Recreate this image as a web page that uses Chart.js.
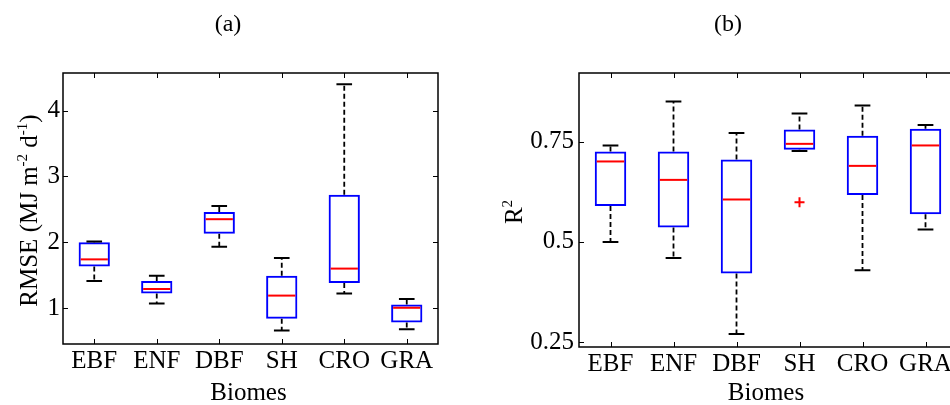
<!DOCTYPE html>
<html>
<head>
<meta charset="utf-8">
<script src="https://cdn.jsdelivr.net/npm/chart.js@4.4.1/dist/chart.umd.min.js"></script>
<style>
  html, body { margin: 0; padding: 0; background: #fff; overflow: hidden; }
  body { width: 950px; height: 405px; position: relative; }
  .panel { position: absolute; top: 0; height: 405px; }
  #panelA { left: 0; width: 475px; }
  #panelB { left: 475px; width: 500px; }
</style>
</head>
<body>
<div class="panel" id="panelA"><canvas id="chartA" width="475" height="405"></canvas></div>
<div class="panel" id="panelB"><canvas id="chartB" width="500" height="405"></canvas></div>
<script>
// Categories
const biomes = ['EBF', 'ENF', 'DBF', 'SH', 'CRO', 'GRA'];

// (a) RMSE box plot stats
const rmseLow  = [1.41, 1.07, 1.93, 0.66, 1.22, 0.68];
const rmseQ1   = [1.63, 1.22, 2.13, 0.84, 1.38, 0.78];
const rmseMed  = [1.74, 1.29, 2.35, 1.19, 1.60, 1.005];
const rmseQ3   = [2.00, 1.41, 2.46, 1.49, 2.72, 1.055];
const rmseHigh = [2.01, 1.49, 2.55, 1.76, 4.40, 1.14];
const rmseOutliers = [null, null, null, null, null, null];
const rmseTicks = [1, 2, 3, 4];

// (b) R2 box plot stats
const r2Low  = [0.500, 0.460, 0.270, 0.727, 0.429, 0.531];
const r2Q1   = [0.590, 0.536, 0.421, 0.730, 0.617, 0.569];
const r2Med  = [0.701, 0.655, 0.606, 0.745, 0.690, 0.741];
const r2Q3   = [0.726, 0.726, 0.706, 0.781, 0.765, 0.783];
const r2High = [0.741, 0.851, 0.772, 0.821, 0.841, 0.792];
const r2Outliers = [null, null, null, 0.599, null, null];
const r2Ticks = [0.25, 0.5, 0.75];

const FONT = 'Liberation Serif, Times New Roman, serif';
const TICK_FONT = { family: FONT, size: 25 };

function makePanel(cfg) {
    const boxPlugin = {
        id: 'boxparts',
        afterDatasetsDraw(chart) {
            const ctx = chart.ctx;
            const x = chart.scales.x, y = chart.scales.y;
            const step = x.getPixelForValue(1) - x.getPixelForValue(0);
            const capHalf = step * 0.125, boxHalf = step * 0.25;
            ctx.save();
            for (let i = 0; i < biomes.length; i++) {
                const xc = x.getPixelForValue(i);
                // dashed whiskers
                ctx.strokeStyle = '#000';
                ctx.lineWidth = 1.8;
                ctx.setLineDash([5, 3]);
                ctx.beginPath();
                ctx.moveTo(xc, y.getPixelForValue(cfg.q3[i]));
                ctx.lineTo(xc, y.getPixelForValue(cfg.high[i]));
                ctx.moveTo(xc, y.getPixelForValue(cfg.q1[i]));
                ctx.lineTo(xc, y.getPixelForValue(cfg.low[i]));
                ctx.stroke();
                // caps
                ctx.setLineDash([]);
                ctx.lineWidth = 2;
                ctx.beginPath();
                [cfg.high[i], cfg.low[i]].forEach(v => {
                    const py = y.getPixelForValue(v);
                    ctx.moveTo(xc - capHalf, py);
                    ctx.lineTo(xc + capHalf, py);
                });
                ctx.stroke();
                // median
                ctx.strokeStyle = '#ff0000';
                ctx.beginPath();
                const pm = y.getPixelForValue(cfg.med[i]);
                ctx.moveTo(xc - boxHalf + 2, pm);
                ctx.lineTo(xc + boxHalf - 2, pm);
                ctx.stroke();
            }
            ctx.restore();
        },
        afterDraw(chart) {
            const ctx = chart.ctx;
            const a = chart.chartArea;
            const x = chart.scales.x, y = chart.scales.y;
            ctx.save();
            // frame + inward ticks
            ctx.strokeStyle = '#000';
            ctx.lineWidth = 1.5;
            ctx.strokeRect(a.left, a.top, a.right - a.left, a.bottom - a.top);
            ctx.lineWidth = 1;
            ctx.beginPath();
            cfg.yTicks.forEach(v => {
                const py = Math.round(y.getPixelForValue(v)) + 0.5;
                ctx.moveTo(a.left, py); ctx.lineTo(a.left + 5, py);
                ctx.moveTo(a.right, py); ctx.lineTo(a.right - 5, py);
            });
            for (let i = 0; i < biomes.length; i++) {
                const px = Math.round(x.getPixelForValue(i)) + 0.5;
                ctx.moveTo(px, a.bottom); ctx.lineTo(px, a.bottom - 5);
                ctx.moveTo(px, a.top); ctx.lineTo(px, a.top + 5);
            }
            ctx.stroke();

            ctx.fillStyle = '#000';
            // panel title
            ctx.font = '24px ' + FONT;
            ctx.textAlign = 'center';
            ctx.textBaseline = 'middle';
            ctx.fillText(cfg.title, cfg.titleX, 25);
            // x title
            ctx.font = '25px ' + FONT;
            ctx.textBaseline = 'alphabetic';
            ctx.fillText('Biomes', (a.left + a.right) / 2 - 2, 400);
            // y title with superscripts, rotated
            const parts = cfg.yTitle.map(([t, sup]) => {
                ctx.font = (sup ? '15px ' : '25px ') + FONT;
                return { t, sup, w: ctx.measureText(t).width };
            });
            const total = parts.reduce((s, p) => s + p.w, 0);
            ctx.translate(cfg.yTitleX, (a.top + a.bottom) / 2 + 2);
            ctx.rotate(-Math.PI / 2);
            ctx.textAlign = 'left';
            let cx = -total / 2;
            parts.forEach(p => {
                ctx.font = (p.sup ? '15px ' : '25px ') + FONT;
                ctx.fillText(p.t, cx, p.sup ? -10 : 0);
                cx += p.w;
            });
            ctx.restore();
        }
    };

    return new Chart(document.getElementById(cfg.canvas), {
        type: 'bar',
        data: {
            labels: biomes,
            datasets: [{
                data: cfg.q1.map((v, i) => [v, cfg.q3[i]]),
                backgroundColor: 'rgba(0,0,0,0)',
                borderColor: '#0000ff',
                borderWidth: 2,
                borderSkipped: false,
                barPercentage: 0.5,
                categoryPercentage: 1
            }, {
                type: 'line',
                data: cfg.outliers,
                showLine: false,
                pointStyle: 'cross',
                pointRadius: 5,
                pointBorderWidth: 2,
                pointBorderColor: '#ff0000',
                borderColor: '#ff0000'
            }]
        },
        options: {
            responsive: false,
            animation: false,
            devicePixelRatio: 1,
            layout: { padding: cfg.padding },
            plugins: { legend: { display: false }, tooltip: { enabled: false } },
            scales: {
                x: {
                    type: 'category',
                    offset: true,
                    grid: { display: false, drawTicks: false },
                    border: { display: false },
                    ticks: { font: TICK_FONT, color: '#000', padding: 2, maxRotation: 0, autoSkip: false },
                    afterFit: s => { s.height = cfg.xAxisHeight; }
                },
                y: {
                    type: 'linear',
                    min: cfg.yMin,
                    max: cfg.yMax,
                    grid: { display: false, drawTicks: false },
                    border: { display: false },
                    afterBuildTicks: s => { s.ticks = cfg.yTicks.map(v => ({ value: v })); },
                    ticks: { font: TICK_FONT, color: '#000', padding: cfg.yPad, callback: v => String(v) },
                    afterFit: s => { s.width = cfg.yAxisWidth; }
                }
            }
        },
        plugins: [boxPlugin]
    });
}

makePanel({
    canvas: 'chartA',
    low: rmseLow, q1: rmseQ1, med: rmseMed, q3: rmseQ3, high: rmseHigh, outliers: rmseOutliers,
    yMin: 0.455, yMax: 4.57, yTicks: rmseTicks, yPad: 3,
    padding: { top: 73, right: 37, bottom: 0, left: 0 },
    yAxisWidth: 63, xAxisHeight: 61,
    title: '(a)', titleX: 228,
    yTitle: [['RMSE (MJ m', 0], ['-2', 1], [' d', 0], ['-1', 1], [')', 0]],
    yTitleX: 37
});

makePanel({
    canvas: 'chartB',
    low: r2Low, q1: r2Q1, med: r2Med, q3: r2Q3, high: r2High, outliers: r2Outliers,
    yMin: 0.2375, yMax: 0.922, yTicks: r2Ticks, yPad: 5,
    padding: { top: 73, right: 18, bottom: 0, left: 0 },
    yAxisWidth: 104, xAxisHeight: 58,
    title: '(b)', titleX: 253,
    yTitle: [['R', 0], ['2', 1]],
    yTitleX: 47
});
</script>
</body>
</html>
